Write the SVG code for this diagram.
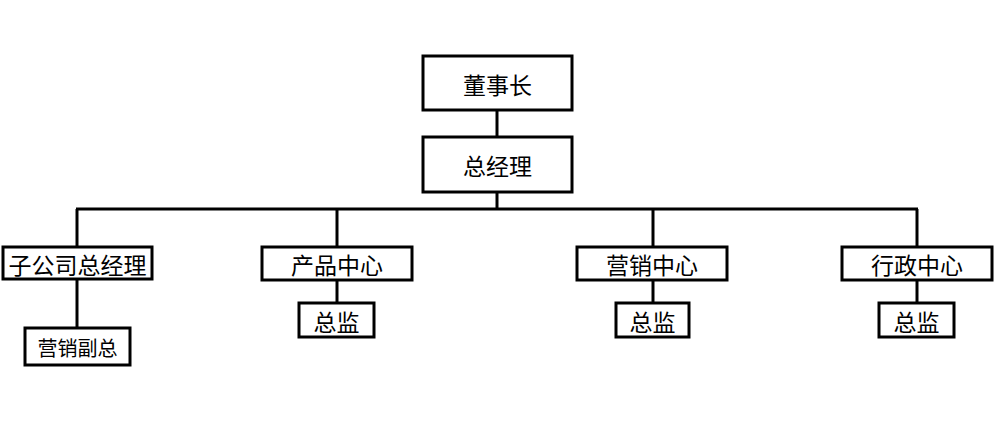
<svg xmlns="http://www.w3.org/2000/svg" width="1000" height="434" viewBox="0 0 1000 434">
<style>
rect.box{fill:#fff;stroke:#000;stroke-width:3}
text{font-family:"Noto Sans CJK SC","Liberation Sans",sans-serif;font-size:23px;fill:#000;text-anchor:middle;dominant-baseline:central}
.conn line{stroke:#000;stroke-width:3}
</style>
<rect width="1000" height="434" fill="#fff"/>
<g class="conn" id="connectors">
<line x1="497" y1="110" x2="497" y2="137"/>
<line x1="497" y1="192" x2="497" y2="209"/>
<line x1="76" y1="209" x2="918" y2="209"/>
<line x1="77" y1="209" x2="77" y2="247"/>
<line x1="337" y1="209" x2="337" y2="247"/>
<line x1="653" y1="209" x2="653" y2="247"/>
<line x1="917" y1="209" x2="917" y2="247"/>
<line x1="77" y1="279" x2="77" y2="328"/>
<line x1="337" y1="280" x2="337" y2="303"/>
<line x1="653" y1="280" x2="653" y2="303"/>
<line x1="917" y1="280" x2="917" y2="303"/>
</g>
<g id="n-chairman"><rect class="box" x="423" y="56" width="149" height="54"/><text x="497.5" y="84">董事长</text></g>
<g id="n-gm"><rect class="box" x="423" y="137" width="149" height="55"/><text x="497.5" y="165">总经理</text></g>
<g id="n-sub"><rect class="box" x="3" y="247" width="149" height="32"/><text x="77.5" y="264">子公司总经理</text></g>
<g id="n-sub-vp"><rect class="box" x="25" y="328" width="105" height="37"/><text x="77.5" y="347" style="font-size:20px">营销副总</text></g>
<g id="n-product"><rect class="box" x="262" y="247" width="150" height="33"/><text x="337" y="264">产品中心</text></g>
<g id="n-product-dir"><rect class="box" x="299" y="303" width="75" height="34"/><text x="336.5" y="321">总监</text></g>
<g id="n-marketing"><rect class="box" x="577" y="247" width="150" height="33"/><text x="652" y="264">营销中心</text></g>
<g id="n-marketing-dir"><rect class="box" x="616" y="303" width="73" height="34"/><text x="652.5" y="321">总监</text></g>
<g id="n-admin"><rect class="box" x="842" y="247" width="150" height="33"/><text x="917" y="264">行政中心</text></g>
<g id="n-admin-dir"><rect class="box" x="879" y="303" width="75" height="34"/><text x="916.5" y="321">总监</text></g>
</svg>
